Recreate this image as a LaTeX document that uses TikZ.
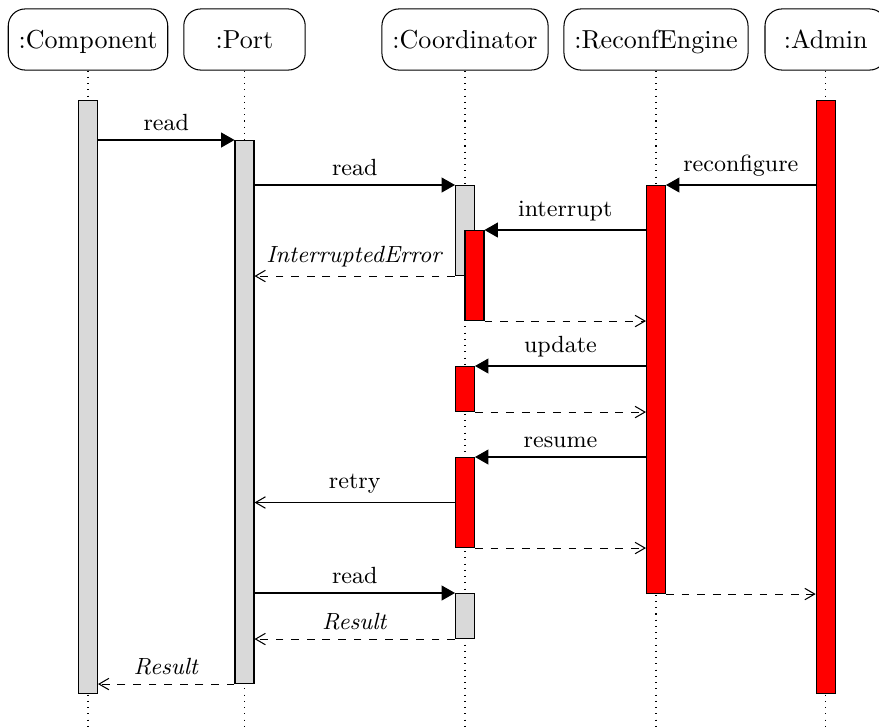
\documentclass[tikz,border=0pt]{standalone}
\usetikzlibrary{arrows.meta}
\begin{document}
\begin{tikzpicture}[x=0.3846pt, y=-0.3846pt,
  inst/.style={draw, rounded corners=6.5pt, minimum height=23.5pt, minimum width=46.7pt,
    inner xsep=4pt, inner ysep=0pt, text height=6.94pt, text depth=0pt, font=\normalsize, fill=white},
  act/.style={draw, anchor=north, inner sep=0pt, minimum width=7.3pt},
  grayact/.style={act, fill=gray!30},
  redact/.style={act, fill=red},
  life/.style={dotted},
  call/.style={-{Triangle[length=5.1pt,width=5.7pt]}},
  ret/.style={dashed, -{Straight Barb[length=3.8pt,width=4.4pt]}},
  retsolid/.style={-{Straight Barb[length=3.8pt,width=4.4pt]}},
  lbl/.style={font=\small, above}]
\useasboundingbox (0,0) rectangle (879,727);
\coordinate (bot) at (0,732);
% instances
\node[inst] (hComp) at (88,39.5) {:Component};
\node[inst] (hPort) at (244.5,39.5) {:Port};
\node[inst] (hCoord) at (465,39.5) {:Coordinator};
\node[inst] (hEng) at (656,39.5) {:ReconfEngine};
\node[inst] (hAdmin) at (825.7,39.5) {:Admin};
% lifelines
\foreach \h in {hComp,hPort,hCoord,hEng,hAdmin}
  \draw[life] (\h.south) -- (\h.south |- bot);
% activations
\node[grayact, minimum height=228.07pt] (comp) at (88,100) {};
\node[grayact, minimum height=208.84pt] (port) at (244.5,140) {};
\node[grayact, minimum height=34.61pt] (c1) at (465,185) {};
\node[redact, minimum height=34.61pt] (c2) at (474.5,230) {};
\node[redact, minimum height=17.31pt] (c3) at (465,366) {};
\node[redact, minimum height=34.61pt] (c4) at (465,457) {};
\node[grayact, minimum height=17.31pt] (c5) at (465,593) {};
\node[redact, minimum height=156.92pt] (eng) at (656,185) {};
\node[redact, minimum height=228.07pt] (admin) at (825.7,100) {};
% messages
\draw[call] (comp.east |- port.north) -- node[lbl]{read} (port.north west);
\draw[call] (port.east |- c1.north) -- node[lbl]{read} (c1.north west);
\draw[call] (admin.west |- eng.north) -- node[lbl]{reconfigure} (eng.north east);
\draw[call] (eng.west |- c2.north) -- node[lbl]{interrupt} (c2.north east);
\draw[ret] (c1.south west) -- node[lbl]{\textit{InterruptedError}} (port.east |- c1.south);
\draw[ret] (c2.south east) -- (eng.west |- c2.south);
\draw[call] (eng.west |- c3.north) -- node[lbl]{update} (c3.north east);
\draw[ret] (c3.south east) -- (eng.west |- c3.south);
\draw[call] (eng.west |- c4.north) -- node[lbl]{resume} (c4.north east);
\draw[retsolid] (c4.west) -- node[lbl]{retry} (port.east |- c4.west);
\draw[ret] (c4.south east) -- (eng.west |- c4.south);
\draw[call] (port.east |- c5.north) -- node[lbl]{read} (c5.north west);
\draw[ret] (eng.south east) -- (admin.west |- eng.south);
\draw[ret] (c5.south west) -- node[lbl]{\textit{Result}} (port.east |- c5.south);
\draw[ret] (port.south west) -- node[lbl]{\textit{Result}} (comp.east |- port.south);
\end{tikzpicture}
\end{document}
